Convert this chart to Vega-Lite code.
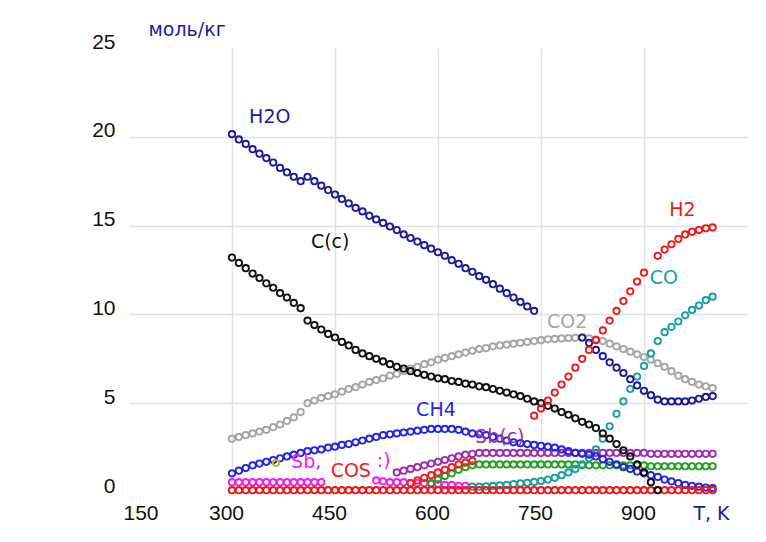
{
"$schema":"https://vega.github.io/schema/vega-lite/v6.json",
"width":618,"height":444,"autosize":"none",
"padding":{"left":129,"top":48,"right":19,"bottom":50},
"background":"white",
"config":{"view":{"stroke":null}},
"encoding":{
"x":{"field":"T","type":"quantitative","scale":{"domain":[150,1050],"nice":false,"zero":false},
"axis":{"values":[150,300,450,600,750,900],"title":"T, K","titleX":582,"titleY":21,"titleAlign":"center","titleBaseline":"middle","titleFont":"DejaVu Sans","titleFontSize":19,"titleFontWeight":"normal","titleColor":"#1c1c9a","labelFont":"Liberation Sans","labelFontSize":21,"labelColor":"#111111","labelPadding":10,"labelOffset":-6,"ticks":false,"domain":false,"grid":true,"gridColor":"#e2e2e2","gridWidth":1.5,"gridOpacity":{"condition":{"test":"datum.value === 150","value":0},"value":1}}},
"y":{"field":"v","type":"quantitative","scale":{"domain":[0,25],"nice":false,"zero":true},
"axis":{"values":[0,5,10,15,20,25],"title":"моль/кг","titleAngle":0,"titleX":19,"titleY":-19,"titleAlign":"left","titleBaseline":"middle","titleFont":"DejaVu Sans","titleFontSize":19,"titleFontWeight":"normal","titleColor":"#1c1c9a","labelFont":"Liberation Sans","labelFontSize":21,"labelColor":"#111111","labelPadding":14,"labelOffset":-6,"ticks":false,"domain":false,"grid":true,"gridColor":"#e2e2e2","gridWidth":1.5,"gridOpacity":{"condition":{"test":"datum.value === 0 || datum.value === 25","value":0},"value":1}}},
"color":{"field":"series","type":"nominal","legend":null,"scale":{"domain":["CO2","Sb","green","Sb(c)","red2","CO","CH4","COS","Cc","H2O","H2","yellow"],"range":["#a6a6a6","#ee22ee","#22a022","#9b30b0","#ee2020","#18a0a0","#2626e0","#ee1a1a","#111111","#1c1c9a","#ee1a1a","#c0b820"]}}
},
"layer":[
{"data":{"values":[
{"series":"CO2","T":300,"v":3.0},{"series":"CO2","T":310,"v":3.1},{"series":"CO2","T":320,"v":3.2},{"series":"CO2","T":330,"v":3.3},{"series":"CO2","T":340,"v":3.4},{"series":"CO2","T":350,"v":3.5},{"series":"CO2","T":360,"v":3.65},{"series":"CO2","T":370,"v":3.8},{"series":"CO2","T":380,"v":4.0},{"series":"CO2","T":390,"v":4.2},{"series":"CO2","T":400,"v":4.5},{"series":"CO2","T":410,"v":5.0},{"series":"CO2","T":420,"v":5.15},{"series":"CO2","T":430,"v":5.3},{"series":"CO2","T":440,"v":5.4},{"series":"CO2","T":450,"v":5.5},{"series":"CO2","T":460,"v":5.65},{"series":"CO2","T":470,"v":5.8},{"series":"CO2","T":480,"v":5.9},{"series":"CO2","T":490,"v":6.05},{"series":"CO2","T":500,"v":6.2},{"series":"CO2","T":510,"v":6.3},{"series":"CO2","T":520,"v":6.4},{"series":"CO2","T":530,"v":6.55},{"series":"CO2","T":540,"v":6.65},{"series":"CO2","T":550,"v":6.8},{"series":"CO2","T":560,"v":6.95},{"series":"CO2","T":570,"v":7.05},{"series":"CO2","T":580,"v":7.2},{"series":"CO2","T":590,"v":7.3},{"series":"CO2","T":600,"v":7.45},{"series":"CO2","T":610,"v":7.55},{"series":"CO2","T":620,"v":7.65},{"series":"CO2","T":630,"v":7.75},{"series":"CO2","T":640,"v":7.85},{"series":"CO2","T":650,"v":7.95},{"series":"CO2","T":660,"v":8.05},{"series":"CO2","T":670,"v":8.1},{"series":"CO2","T":680,"v":8.2},{"series":"CO2","T":690,"v":8.25},{"series":"CO2","T":700,"v":8.3},{"series":"CO2","T":710,"v":8.35},{"series":"CO2","T":720,"v":8.4},{"series":"CO2","T":730,"v":8.45},{"series":"CO2","T":740,"v":8.5},{"series":"CO2","T":750,"v":8.55},{"series":"CO2","T":760,"v":8.6},{"series":"CO2","T":770,"v":8.62},{"series":"CO2","T":780,"v":8.65},{"series":"CO2","T":790,"v":8.67},{"series":"CO2","T":800,"v":8.68},{"series":"CO2","T":810,"v":8.68},{"series":"CO2","T":820,"v":8.65},{"series":"CO2","T":830,"v":8.6},{"series":"CO2","T":840,"v":8.5},{"series":"CO2","T":850,"v":8.35},{"series":"CO2","T":860,"v":8.2},{"series":"CO2","T":870,"v":8.05},{"series":"CO2","T":880,"v":7.9},{"series":"CO2","T":890,"v":7.75},{"series":"CO2","T":900,"v":7.6},{"series":"CO2","T":910,"v":7.45},{"series":"CO2","T":920,"v":7.25},{"series":"CO2","T":930,"v":7.05},{"series":"CO2","T":940,"v":6.8},{"series":"CO2","T":950,"v":6.55},{"series":"CO2","T":960,"v":6.35},{"series":"CO2","T":970,"v":6.2},{"series":"CO2","T":980,"v":6.05},{"series":"CO2","T":990,"v":5.95},{"series":"CO2","T":1000,"v":5.85},
{"series":"Sb","T":300,"v":0.55},{"series":"Sb","T":310,"v":0.55},{"series":"Sb","T":320,"v":0.55},{"series":"Sb","T":330,"v":0.55},{"series":"Sb","T":340,"v":0.55},{"series":"Sb","T":350,"v":0.55},{"series":"Sb","T":360,"v":0.55},{"series":"Sb","T":370,"v":0.55},{"series":"Sb","T":380,"v":0.55},{"series":"Sb","T":390,"v":0.55},{"series":"Sb","T":400,"v":0.55},{"series":"Sb","T":410,"v":0.55},{"series":"Sb","T":420,"v":0.55},{"series":"Sb","T":430,"v":0.55},
{"series":"Sb","T":510,"v":0.65},{"series":"Sb","T":520,"v":0.6},{"series":"Sb","T":530,"v":0.55},{"series":"Sb","T":540,"v":0.55},{"series":"Sb","T":550,"v":0.55},{"series":"Sb","T":560,"v":0.5},{"series":"Sb","T":570,"v":0.5},{"series":"Sb","T":580,"v":0.5},{"series":"Sb","T":590,"v":0.45},{"series":"Sb","T":600,"v":0.45},{"series":"Sb","T":610,"v":0.4},{"series":"Sb","T":620,"v":0.4},{"series":"Sb","T":630,"v":0.35},{"series":"Sb","T":640,"v":0.35},
{"series":"green","T":590,"v":0.5},{"series":"green","T":600,"v":0.7},{"series":"green","T":610,"v":0.9},{"series":"green","T":620,"v":1.05},{"series":"green","T":630,"v":1.25},{"series":"green","T":640,"v":1.4},{"series":"green","T":650,"v":1.5},{"series":"green","T":660,"v":1.55},{"series":"green","T":670,"v":1.55},{"series":"green","T":680,"v":1.55},{"series":"green","T":690,"v":1.55},{"series":"green","T":700,"v":1.55},{"series":"green","T":710,"v":1.55},{"series":"green","T":720,"v":1.55},{"series":"green","T":730,"v":1.55},{"series":"green","T":740,"v":1.55},{"series":"green","T":750,"v":1.55},{"series":"green","T":760,"v":1.55},{"series":"green","T":770,"v":1.55},{"series":"green","T":780,"v":1.55},{"series":"green","T":790,"v":1.55},{"series":"green","T":800,"v":1.55},{"series":"green","T":810,"v":1.5},{"series":"green","T":820,"v":1.5},{"series":"green","T":830,"v":1.5},{"series":"green","T":840,"v":1.5},{"series":"green","T":850,"v":1.5},{"series":"green","T":860,"v":1.5},{"series":"green","T":870,"v":1.5},{"series":"green","T":880,"v":1.5},{"series":"green","T":890,"v":1.5},{"series":"green","T":900,"v":1.5},{"series":"green","T":910,"v":1.45},{"series":"green","T":920,"v":1.45},{"series":"green","T":930,"v":1.45},{"series":"green","T":940,"v":1.45},{"series":"green","T":950,"v":1.45},{"series":"green","T":960,"v":1.45},{"series":"green","T":970,"v":1.45},{"series":"green","T":980,"v":1.45},{"series":"green","T":990,"v":1.45},{"series":"green","T":1000,"v":1.45},
{"series":"Sb(c)","T":540,"v":1.1},{"series":"Sb(c)","T":550,"v":1.2},{"series":"Sb(c)","T":560,"v":1.3},{"series":"Sb(c)","T":570,"v":1.4},{"series":"Sb(c)","T":580,"v":1.5},{"series":"Sb(c)","T":590,"v":1.6},{"series":"Sb(c)","T":600,"v":1.7},{"series":"Sb(c)","T":610,"v":1.8},{"series":"Sb(c)","T":620,"v":1.9},{"series":"Sb(c)","T":630,"v":2.0},{"series":"Sb(c)","T":640,"v":2.1},{"series":"Sb(c)","T":650,"v":2.15},{"series":"Sb(c)","T":660,"v":2.2},{"series":"Sb(c)","T":670,"v":2.2},{"series":"Sb(c)","T":680,"v":2.2},{"series":"Sb(c)","T":690,"v":2.2},{"series":"Sb(c)","T":700,"v":2.2},{"series":"Sb(c)","T":710,"v":2.2},{"series":"Sb(c)","T":720,"v":2.2},{"series":"Sb(c)","T":730,"v":2.2},{"series":"Sb(c)","T":740,"v":2.2},{"series":"Sb(c)","T":750,"v":2.2},{"series":"Sb(c)","T":760,"v":2.2},{"series":"Sb(c)","T":770,"v":2.2},{"series":"Sb(c)","T":780,"v":2.2},{"series":"Sb(c)","T":790,"v":2.2},{"series":"Sb(c)","T":800,"v":2.2},{"series":"Sb(c)","T":810,"v":2.2},{"series":"Sb(c)","T":820,"v":2.2},{"series":"Sb(c)","T":830,"v":2.2},{"series":"Sb(c)","T":840,"v":2.2},{"series":"Sb(c)","T":850,"v":2.2},{"series":"Sb(c)","T":860,"v":2.2},{"series":"Sb(c)","T":870,"v":2.2},{"series":"Sb(c)","T":880,"v":2.2},{"series":"Sb(c)","T":890,"v":2.2},{"series":"Sb(c)","T":900,"v":2.2},{"series":"Sb(c)","T":910,"v":2.15},{"series":"Sb(c)","T":920,"v":2.15},{"series":"Sb(c)","T":930,"v":2.15},{"series":"Sb(c)","T":940,"v":2.15},{"series":"Sb(c)","T":950,"v":2.15},{"series":"Sb(c)","T":960,"v":2.15},{"series":"Sb(c)","T":970,"v":2.15},{"series":"Sb(c)","T":980,"v":2.15},{"series":"Sb(c)","T":990,"v":2.15},{"series":"Sb(c)","T":1000,"v":2.15},
{"series":"red2","T":560,"v":0.5},{"series":"red2","T":570,"v":0.65},{"series":"red2","T":580,"v":0.8},{"series":"red2","T":590,"v":0.95},{"series":"red2","T":600,"v":1.1},{"series":"red2","T":610,"v":1.25},{"series":"red2","T":620,"v":1.4},{"series":"red2","T":630,"v":1.55},{"series":"red2","T":640,"v":1.65},{"series":"red2","T":650,"v":1.75},
{"series":"CO","T":650,"v":0.3},{"series":"CO","T":660,"v":0.3},{"series":"CO","T":670,"v":0.32},{"series":"CO","T":680,"v":0.34},{"series":"CO","T":690,"v":0.37},{"series":"CO","T":700,"v":0.4},{"series":"CO","T":710,"v":0.44},{"series":"CO","T":720,"v":0.48},{"series":"CO","T":730,"v":0.52},{"series":"CO","T":740,"v":0.57},{"series":"CO","T":750,"v":0.62},{"series":"CO","T":760,"v":0.7},{"series":"CO","T":770,"v":0.8},{"series":"CO","T":780,"v":0.95},{"series":"CO","T":790,"v":1.1},{"series":"CO","T":800,"v":1.3},{"series":"CO","T":810,"v":1.55},{"series":"CO","T":820,"v":1.9},{"series":"CO","T":830,"v":2.4},{"series":"CO","T":840,"v":3.0},{"series":"CO","T":850,"v":3.7},{"series":"CO","T":860,"v":4.4},{"series":"CO","T":870,"v":5.1},{"series":"CO","T":880,"v":5.8},{"series":"CO","T":890,"v":6.5},{"series":"CO","T":900,"v":7.1},{"series":"CO","T":910,"v":7.8},{"series":"CO","T":920,"v":8.5},{"series":"CO","T":930,"v":9.0},{"series":"CO","T":940,"v":9.3},{"series":"CO","T":950,"v":9.6},{"series":"CO","T":960,"v":9.95},{"series":"CO","T":970,"v":10.25},{"series":"CO","T":980,"v":10.5},{"series":"CO","T":990,"v":10.8},{"series":"CO","T":1000,"v":11.0},
{"series":"CH4","T":300,"v":1.05},{"series":"CH4","T":310,"v":1.2},{"series":"CH4","T":320,"v":1.35},{"series":"CH4","T":330,"v":1.5},{"series":"CH4","T":340,"v":1.6},{"series":"CH4","T":350,"v":1.7},{"series":"CH4","T":360,"v":1.8},{"series":"CH4","T":370,"v":1.9},{"series":"CH4","T":380,"v":2.0},{"series":"CH4","T":390,"v":2.1},{"series":"CH4","T":400,"v":2.2},{"series":"CH4","T":410,"v":2.3},{"series":"CH4","T":420,"v":2.35},{"series":"CH4","T":430,"v":2.4},{"series":"CH4","T":440,"v":2.5},{"series":"CH4","T":450,"v":2.55},{"series":"CH4","T":460,"v":2.65},{"series":"CH4","T":470,"v":2.7},{"series":"CH4","T":480,"v":2.8},{"series":"CH4","T":490,"v":2.9},{"series":"CH4","T":500,"v":3.0},{"series":"CH4","T":510,"v":3.1},{"series":"CH4","T":520,"v":3.2},{"series":"CH4","T":530,"v":3.25},{"series":"CH4","T":540,"v":3.3},{"series":"CH4","T":550,"v":3.35},{"series":"CH4","T":560,"v":3.4},{"series":"CH4","T":570,"v":3.45},{"series":"CH4","T":580,"v":3.5},{"series":"CH4","T":590,"v":3.55},{"series":"CH4","T":600,"v":3.55},{"series":"CH4","T":610,"v":3.55},{"series":"CH4","T":620,"v":3.55},{"series":"CH4","T":630,"v":3.5},{"series":"CH4","T":640,"v":3.4},{"series":"CH4","T":650,"v":3.3},{"series":"CH4","T":660,"v":3.25},{"series":"CH4","T":670,"v":3.2},{"series":"CH4","T":680,"v":3.1},{"series":"CH4","T":690,"v":3.0},{"series":"CH4","T":700,"v":2.9},{"series":"CH4","T":710,"v":2.8},{"series":"CH4","T":720,"v":2.75},{"series":"CH4","T":730,"v":2.7},{"series":"CH4","T":740,"v":2.65},{"series":"CH4","T":750,"v":2.6},{"series":"CH4","T":760,"v":2.55},{"series":"CH4","T":770,"v":2.5},{"series":"CH4","T":780,"v":2.4},{"series":"CH4","T":790,"v":2.3},{"series":"CH4","T":800,"v":2.2},{"series":"CH4","T":810,"v":2.15},{"series":"CH4","T":820,"v":2.1},{"series":"CH4","T":830,"v":2.0},{"series":"CH4","T":840,"v":1.85},{"series":"CH4","T":850,"v":1.7},{"series":"CH4","T":860,"v":1.55},{"series":"CH4","T":870,"v":1.4},{"series":"CH4","T":880,"v":1.3},{"series":"CH4","T":890,"v":1.15},{"series":"CH4","T":900,"v":1.05},{"series":"CH4","T":910,"v":0.95},{"series":"CH4","T":920,"v":0.85},{"series":"CH4","T":930,"v":0.7},{"series":"CH4","T":940,"v":0.6},{"series":"CH4","T":950,"v":0.5},{"series":"CH4","T":960,"v":0.4},{"series":"CH4","T":970,"v":0.35},{"series":"CH4","T":980,"v":0.3},{"series":"CH4","T":990,"v":0.25},{"series":"CH4","T":1000,"v":0.22},
{"series":"COS","T":300,"v":0.1},{"series":"COS","T":310,"v":0.1},{"series":"COS","T":320,"v":0.1},{"series":"COS","T":330,"v":0.1},{"series":"COS","T":340,"v":0.1},{"series":"COS","T":350,"v":0.1},{"series":"COS","T":360,"v":0.1},{"series":"COS","T":370,"v":0.1},{"series":"COS","T":380,"v":0.1},{"series":"COS","T":390,"v":0.1},{"series":"COS","T":400,"v":0.1},{"series":"COS","T":410,"v":0.1},{"series":"COS","T":420,"v":0.1},{"series":"COS","T":430,"v":0.1},{"series":"COS","T":440,"v":0.1},{"series":"COS","T":450,"v":0.1},{"series":"COS","T":460,"v":0.1},{"series":"COS","T":470,"v":0.1},{"series":"COS","T":480,"v":0.1},{"series":"COS","T":490,"v":0.1},{"series":"COS","T":500,"v":0.1},{"series":"COS","T":510,"v":0.1},{"series":"COS","T":520,"v":0.1},{"series":"COS","T":530,"v":0.1},{"series":"COS","T":540,"v":0.1},{"series":"COS","T":550,"v":0.1},{"series":"COS","T":560,"v":0.1},{"series":"COS","T":570,"v":0.1},{"series":"COS","T":580,"v":0.1},{"series":"COS","T":590,"v":0.1},{"series":"COS","T":600,"v":0.1},{"series":"COS","T":610,"v":0.1},{"series":"COS","T":620,"v":0.1},{"series":"COS","T":630,"v":0.1},{"series":"COS","T":640,"v":0.1},{"series":"COS","T":650,"v":0.1},{"series":"COS","T":660,"v":0.1},{"series":"COS","T":670,"v":0.1},{"series":"COS","T":680,"v":0.1},{"series":"COS","T":690,"v":0.1},{"series":"COS","T":700,"v":0.1},{"series":"COS","T":710,"v":0.1},{"series":"COS","T":720,"v":0.1},{"series":"COS","T":730,"v":0.1},{"series":"COS","T":740,"v":0.1},{"series":"COS","T":750,"v":0.1},{"series":"COS","T":760,"v":0.1},{"series":"COS","T":770,"v":0.1},{"series":"COS","T":780,"v":0.1},{"series":"COS","T":790,"v":0.1},{"series":"COS","T":800,"v":0.1},{"series":"COS","T":810,"v":0.1},{"series":"COS","T":820,"v":0.1},{"series":"COS","T":830,"v":0.1},{"series":"COS","T":840,"v":0.1},{"series":"COS","T":850,"v":0.1},{"series":"COS","T":860,"v":0.1},{"series":"COS","T":870,"v":0.1},{"series":"COS","T":880,"v":0.1},{"series":"COS","T":890,"v":0.1},{"series":"COS","T":900,"v":0.1},{"series":"COS","T":910,"v":0.1},{"series":"COS","T":920,"v":0.1},{"series":"COS","T":930,"v":0.1},{"series":"COS","T":940,"v":0.1},{"series":"COS","T":950,"v":0.1},{"series":"COS","T":960,"v":0.1},{"series":"COS","T":970,"v":0.1},{"series":"COS","T":980,"v":0.1},{"series":"COS","T":990,"v":0.1},{"series":"COS","T":1000,"v":0.1},
{"series":"Cc","T":300,"v":13.2},{"series":"Cc","T":310,"v":12.9},{"series":"Cc","T":320,"v":12.6},{"series":"Cc","T":330,"v":12.3},{"series":"Cc","T":340,"v":12.05},{"series":"Cc","T":350,"v":11.75},{"series":"Cc","T":360,"v":11.5},{"series":"Cc","T":370,"v":11.2},{"series":"Cc","T":380,"v":10.95},{"series":"Cc","T":390,"v":10.65},{"series":"Cc","T":400,"v":10.35},{"series":"Cc","T":410,"v":9.65},{"series":"Cc","T":420,"v":9.4},{"series":"Cc","T":430,"v":9.15},{"series":"Cc","T":440,"v":8.9},{"series":"Cc","T":450,"v":8.7},{"series":"Cc","T":460,"v":8.45},{"series":"Cc","T":470,"v":8.25},{"series":"Cc","T":480,"v":8.0},{"series":"Cc","T":490,"v":7.8},{"series":"Cc","T":500,"v":7.65},{"series":"Cc","T":510,"v":7.5},{"series":"Cc","T":520,"v":7.35},{"series":"Cc","T":530,"v":7.2},{"series":"Cc","T":540,"v":7.05},{"series":"Cc","T":550,"v":6.95},{"series":"Cc","T":560,"v":6.8},{"series":"Cc","T":570,"v":6.7},{"series":"Cc","T":580,"v":6.6},{"series":"Cc","T":590,"v":6.5},{"series":"Cc","T":600,"v":6.4},{"series":"Cc","T":610,"v":6.35},{"series":"Cc","T":620,"v":6.25},{"series":"Cc","T":630,"v":6.2},{"series":"Cc","T":640,"v":6.1},{"series":"Cc","T":650,"v":6.05},{"series":"Cc","T":660,"v":5.95},{"series":"Cc","T":670,"v":5.9},{"series":"Cc","T":680,"v":5.8},{"series":"Cc","T":690,"v":5.7},{"series":"Cc","T":700,"v":5.6},{"series":"Cc","T":710,"v":5.5},{"series":"Cc","T":720,"v":5.4},{"series":"Cc","T":730,"v":5.25},{"series":"Cc","T":740,"v":5.1},{"series":"Cc","T":750,"v":5.0},{"series":"Cc","T":760,"v":4.85},{"series":"Cc","T":770,"v":4.7},{"series":"Cc","T":780,"v":4.5},{"series":"Cc","T":790,"v":4.35},{"series":"Cc","T":800,"v":4.15},{"series":"Cc","T":810,"v":3.95},{"series":"Cc","T":820,"v":3.8},{"series":"Cc","T":830,"v":3.6},{"series":"Cc","T":840,"v":3.3},{"series":"Cc","T":850,"v":3.0},{"series":"Cc","T":860,"v":2.7},{"series":"Cc","T":870,"v":2.35},{"series":"Cc","T":880,"v":2.0},{"series":"Cc","T":890,"v":1.55},{"series":"Cc","T":900,"v":1.1},{"series":"Cc","T":910,"v":0.55},{"series":"Cc","T":920,"v":0.1},
{"series":"H2O","T":300,"v":20.15},{"series":"H2O","T":310,"v":19.85},{"series":"H2O","T":320,"v":19.6},{"series":"H2O","T":330,"v":19.3},{"series":"H2O","T":340,"v":19.05},{"series":"H2O","T":350,"v":18.8},{"series":"H2O","T":360,"v":18.55},{"series":"H2O","T":370,"v":18.25},{"series":"H2O","T":380,"v":18.0},{"series":"H2O","T":390,"v":17.75},{"series":"H2O","T":400,"v":17.5},{"series":"H2O","T":410,"v":17.75},{"series":"H2O","T":420,"v":17.5},{"series":"H2O","T":430,"v":17.25},{"series":"H2O","T":440,"v":17.0},{"series":"H2O","T":450,"v":16.75},{"series":"H2O","T":460,"v":16.5},{"series":"H2O","T":470,"v":16.25},{"series":"H2O","T":480,"v":16.0},{"series":"H2O","T":490,"v":15.8},{"series":"H2O","T":500,"v":15.55},{"series":"H2O","T":510,"v":15.35},{"series":"H2O","T":520,"v":15.15},{"series":"H2O","T":530,"v":14.95},{"series":"H2O","T":540,"v":14.75},{"series":"H2O","T":550,"v":14.5},{"series":"H2O","T":560,"v":14.3},{"series":"H2O","T":570,"v":14.1},{"series":"H2O","T":580,"v":13.9},{"series":"H2O","T":590,"v":13.7},{"series":"H2O","T":600,"v":13.5},{"series":"H2O","T":610,"v":13.3},{"series":"H2O","T":620,"v":13.05},{"series":"H2O","T":630,"v":12.85},{"series":"H2O","T":640,"v":12.6},{"series":"H2O","T":650,"v":12.4},{"series":"H2O","T":660,"v":12.15},{"series":"H2O","T":670,"v":11.95},{"series":"H2O","T":680,"v":11.7},{"series":"H2O","T":690,"v":11.45},{"series":"H2O","T":700,"v":11.2},{"series":"H2O","T":710,"v":10.95},{"series":"H2O","T":720,"v":10.7},{"series":"H2O","T":730,"v":10.45},{"series":"H2O","T":740,"v":10.2},
{"series":"H2O","T":810,"v":8.7},{"series":"H2O","T":820,"v":8.4},{"series":"H2O","T":830,"v":8.0},{"series":"H2O","T":840,"v":7.65},{"series":"H2O","T":850,"v":7.3},{"series":"H2O","T":860,"v":7.0},{"series":"H2O","T":870,"v":6.7},{"series":"H2O","T":880,"v":6.35},{"series":"H2O","T":890,"v":6.0},{"series":"H2O","T":900,"v":5.7},{"series":"H2O","T":910,"v":5.45},{"series":"H2O","T":920,"v":5.2},{"series":"H2O","T":930,"v":5.1},{"series":"H2O","T":940,"v":5.1},{"series":"H2O","T":950,"v":5.1},{"series":"H2O","T":960,"v":5.1},{"series":"H2O","T":970,"v":5.15},{"series":"H2O","T":980,"v":5.25},{"series":"H2O","T":990,"v":5.35},{"series":"H2O","T":1000,"v":5.4},
{"series":"H2","T":740,"v":4.3},{"series":"H2","T":750,"v":4.7},{"series":"H2","T":760,"v":5.15},{"series":"H2","T":770,"v":5.6},{"series":"H2","T":780,"v":6.05},{"series":"H2","T":790,"v":6.5},{"series":"H2","T":800,"v":7.0},{"series":"H2","T":810,"v":7.5},{"series":"H2","T":820,"v":8.0},{"series":"H2","T":830,"v":8.55},{"series":"H2","T":840,"v":9.1},{"series":"H2","T":850,"v":9.65},{"series":"H2","T":860,"v":10.2},{"series":"H2","T":870,"v":10.75},{"series":"H2","T":880,"v":11.3},{"series":"H2","T":890,"v":11.85},{"series":"H2","T":900,"v":12.35},
{"series":"H2","T":920,"v":13.3},{"series":"H2","T":930,"v":13.65},{"series":"H2","T":940,"v":13.95},{"series":"H2","T":950,"v":14.25},{"series":"H2","T":960,"v":14.5},{"series":"H2","T":970,"v":14.65},{"series":"H2","T":980,"v":14.75},{"series":"H2","T":990,"v":14.85},{"series":"H2","T":1000,"v":14.9},
{"series":"yellow","T":364,"v":1.63}
]},
"mark":{"type":"point","shape":"circle","filled":false,"size":40,"strokeWidth":1.9,"opacity":1}},
{"data":{"values":[
{"label":"H2O","T":355,"v":21.1,"series":"H2O"},
{"label":"C(c)","T":443,"v":14.1,"series":"Cc"},
{"label":"CO2","T":788,"v":9.6,"series":"CO2"},
{"label":"H2","T":956,"v":15.9,"series":"H2"},
{"label":"CO","T":929,"v":12.05,"series":"CO"},
{"label":"CH4","T":597,"v":4.6,"series":"CH4"},
{"label":"Sb(c)","T":690,"v":3.1,"series":"Sb(c)"},
{"label":"COS","T":473,"v":1.2,"series":"COS"},
{"label":"Sb,","T":408,"v":1.7,"series":"Sb"},
{"label":":)","T":521,"v":1.75,"series":"Sb"}
]},
"mark":{"type":"text","font":"DejaVu Sans","fontSize":19,"align":"center","baseline":"middle"},
"encoding":{"text":{"field":"label","type":"nominal"}}}
]
}
